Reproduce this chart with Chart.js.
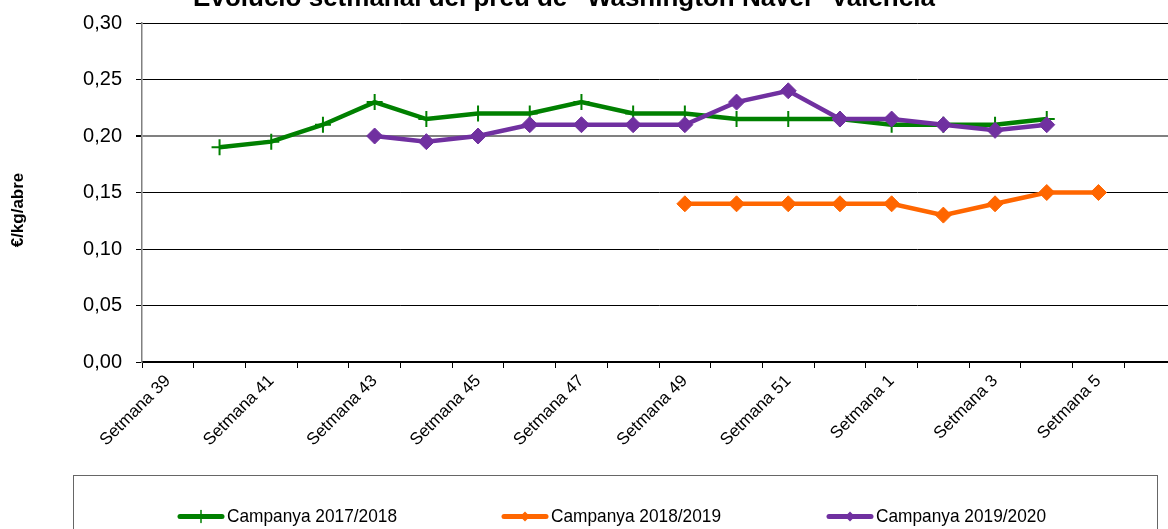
<!DOCTYPE html>
<html>
<head>
<meta charset="utf-8">
<script src="https://cdn.jsdelivr.net/npm/chart.js@4"></script>
<style>
    html, body { margin: 0; padding: 0; background: #fff; overflow: hidden; }
    #wrap { width: 1168px; height: 529px; overflow: hidden; }
</style>
</head>
<body>
<div id="wrap"><canvas id="chart" width="1180" height="529"></canvas></div>
<script>
const setmanes = ['Setmana 39', 'Setmana 40', 'Setmana 41', 'Setmana 42', 'Setmana 43', 'Setmana 44',
    'Setmana 45', 'Setmana 46', 'Setmana 47', 'Setmana 48', 'Setmana 49', 'Setmana 50', 'Setmana 51',
    'Setmana 52', 'Setmana 1', 'Setmana 2', 'Setmana 3', 'Setmana 4', 'Setmana 5', 'Setmana 6'];
const campanya1718 = [null, 0.19, 0.195, 0.21, 0.23, 0.215, 0.22, 0.22, 0.23, 0.22, 0.22, 0.215, 0.215,
    0.215, 0.21, 0.21, 0.21, 0.215, null, null];
const campanya1819 = [null, null, null, null, null, null, null, null, null, null, 0.14, 0.14, 0.14,
    0.14, 0.14, 0.13, 0.14, 0.15, 0.15, null];
const campanya1920 = [null, null, null, null, 0.20, 0.195, 0.20, 0.21, 0.21, 0.21, 0.21, 0.23, 0.24,
    0.215, 0.215, 0.21, 0.205, 0.21, null, null];
const yTicks = [0, 0.05, 0.10, 0.15, 0.20, 0.25, 0.30];

const titol = 'Evolució setmanal del preu de "Washington Navel" València';
const eixY = '€/kg/abre';
const fontFam = '"Liberation Sans", Arial, sans-serif';

const series = [
    { label: 'Campanya 2017/2018', data: campanya1718, color: '#008000', marker: 'cross', order: 3 },
    { label: 'Campanya 2018/2019', data: campanya1819, color: '#FF6600', marker: 'rectRot', order: 2 },
    { label: 'Campanya 2019/2020', data: campanya1920, color: '#7030A0', marker: 'rectRot', order: 1 }
];

function drawMarker(ctx, style, x, y, color) {
    ctx.save();
    ctx.fillStyle = color;
    ctx.strokeStyle = color;
    ctx.beginPath();
    if (style === 'cross') {
        ctx.lineWidth = 1.5;
        ctx.moveTo(x, y - 6); ctx.lineTo(x, y + 6);
        ctx.stroke();
    } else {
        ctx.moveTo(x, y - 5); ctx.lineTo(x + 5, y); ctx.lineTo(x, y + 5); ctx.lineTo(x - 5, y);
        ctx.closePath();
        ctx.fill();
    }
    ctx.restore();
}

const extras = {
    id: 'extras',
    afterDraw(chart) {
        const ctx = chart.ctx;
        ctx.save();
        // titol (tallat a dalt com a la imatge)
        ctx.fillStyle = '#000';
        ctx.font = 'bold 26px ' + fontFam;
        ctx.textAlign = 'center';
        ctx.textBaseline = 'alphabetic';
        ctx.fillText(titol, 564, 6);
        // titol eix Y
        ctx.translate(18, 210);
        ctx.rotate(-Math.PI / 2);
        ctx.font = 'bold 17px ' + fontFam;
        ctx.textBaseline = 'middle';
        ctx.fillText(eixY, 0, 0);
        ctx.restore();

        // llegenda
        ctx.save();
        ctx.strokeStyle = '#666';
        ctx.lineWidth = 1;
        ctx.strokeRect(73.5, 475.5, 1084, 120);
        const xs = [178, 502, 827];
        const y = 516.5;
        series.forEach((s, i) => {
            const x = xs[i];
            ctx.strokeStyle = s.color;
            ctx.lineWidth = 5;
            ctx.lineCap = 'round';
            ctx.beginPath();
            ctx.moveTo(x + 2, y);
            ctx.lineTo(x + 44, y);
            ctx.stroke();
            drawMarker(ctx, s.marker, x + 23, y, s.color);
            ctx.fillStyle = '#000';
            ctx.font = '19px ' + fontFam;
            ctx.textAlign = 'left';
            ctx.textBaseline = 'middle';
            ctx.fillText(s.label, x + 49, y, 170);
        });
        ctx.restore();
    }
};

new Chart(document.getElementById('chart'), {
    type: 'line',
    data: {
        labels: setmanes,
        datasets: series.map(s => ({
            label: s.label,
            data: s.data,
            order: s.order,
            borderColor: s.color,
            backgroundColor: s.color,
            borderWidth: 4.5,
            pointStyle: s.marker,
            pointRadius: 8,
            pointBorderWidth: s.marker === 'cross' ? 2 : 1,
            pointBackgroundColor: s.color,
            pointBorderColor: s.color,
            tension: 0,
            fill: false
        }))
    },
    options: {
        responsive: false,
        animation: false,
        layout: { autoPadding: false, padding: { left: 0, top: 23, right: 4, bottom: 82 } },
        plugins: {
            legend: { display: false },
            tooltip: { enabled: false }
        },
        scales: {
            x: {
                offset: true,
                grid: { offset: true, drawOnChartArea: false, tickLength: 6, color: '#000', lineWidth: 1 },
                border: { color: '#000', width: 1.5 },
                ticks: {
                    autoSkip: false,
                    maxRotation: 45,
                    minRotation: 45,
                    padding: 3,
                    color: '#000',
                    font: { family: fontFam, size: 17 },
                    callback: (v, i) => i % 2 === 0 ? setmanes[i] : ''
                },
                afterFit: s => { s.height = 85; s.paddingLeft = 0; s.paddingRight = 0; }
            },
            y: {
                min: 0,
                max: 0.3,
                afterBuildTicks: s => { s.ticks = yTicks.map(v => ({ value: v })); },
                grid: {
                    color: c => (c.tick && Math.abs(c.tick.value - 0.2) < 1e-9) ? '#808080' : '#000',
                    lineWidth: c => (c.tick && Math.abs(c.tick.value - 0.2) < 1e-9) ? 2 : 1,
                    tickLength: 6,
                    tickColor: '#000'
                },
                border: { color: '#808080', width: 1.5 },
                ticks: {
                    padding: 14,
                    color: '#000',
                    font: { family: fontFam, size: 20 },
                    callback: v => v.toFixed(2).replace('.', ',')
                },
                afterFit: s => { s.width = 142; s.paddingTop = 0; s.paddingBottom = 0; }
            }
        }
    },
    plugins: [extras]
});
</script>
</body>
</html>
